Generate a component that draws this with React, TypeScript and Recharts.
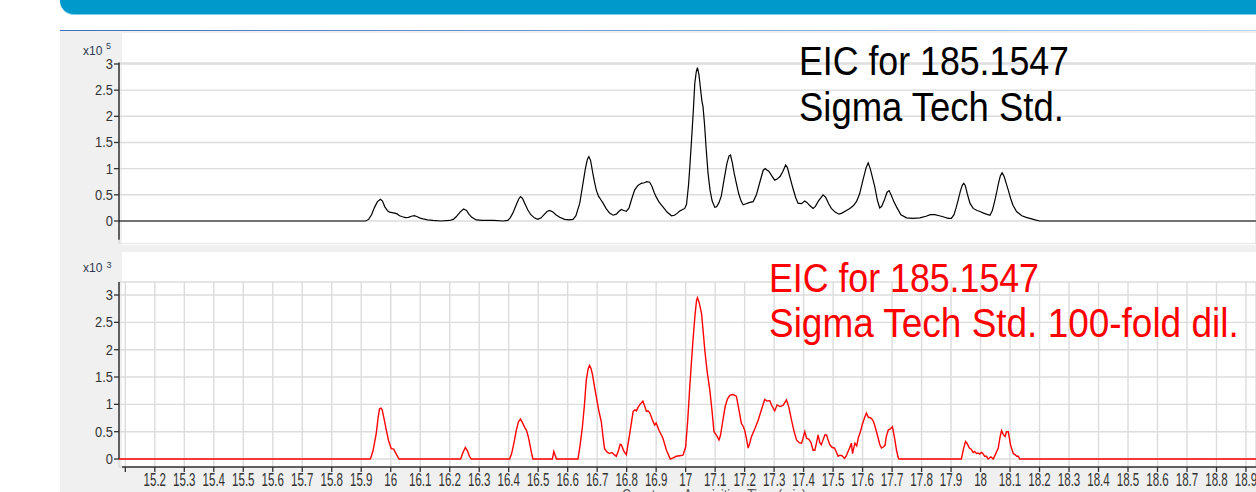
import React from 'react';
import { LineChart, Line, XAxis, YAxis, CartesianGrid, ReferenceLine } from 'recharts';

// Acquisition time window (min)
const X_MIN = 15.0786;
const X_MAX = 18.934;

const timeTicks = [
  15.1, 15.2, 15.3, 15.4, 15.5, 15.6, 15.7, 15.8, 15.9, 16,
  16.1, 16.2, 16.3, 16.4, 16.5, 16.6, 16.7, 16.8, 16.9, 17,
  17.1, 17.2, 17.3, 17.4, 17.5, 17.6, 17.7, 17.8, 17.9, 18,
  18.1, 18.2, 18.3, 18.4, 18.5, 18.6, 18.7, 18.8, 18.9,
];
const countTicks = [0, 0.5, 1, 1.5, 2, 2.5, 3];

// EIC 185.1547, Sigma Tech Std. (counts x10^5)
const stdTimes = [
  15.0786, 15.915, 15.925, 15.935, 15.945, 15.955, 15.965, 15.972, 15.98, 15.99,
  15.996, 16.005, 16.013, 16.02, 16.03, 16.04, 16.05, 16.06, 16.07, 16.08,
  16.09, 16.1, 16.11, 16.125, 16.143, 16.17, 16.2, 16.212, 16.222, 16.235,
  16.247, 16.257, 16.265, 16.275, 16.29, 16.31, 16.35, 16.38, 16.397, 16.405,
  16.414, 16.425, 16.434, 16.44, 16.447, 16.455, 16.465, 16.475, 16.487, 16.499,
  16.51, 16.52, 16.53, 16.539, 16.55, 16.56, 16.573, 16.59, 16.605, 16.618,
  16.628, 16.641, 16.65, 16.66, 16.667, 16.672, 16.678, 16.685, 16.692, 16.697,
  16.705, 16.712, 16.72, 16.73, 16.742, 16.754, 16.765, 16.775, 16.782, 16.79,
  16.799, 16.808, 16.817, 16.827, 16.838, 16.85, 16.86, 16.868, 16.878, 16.886,
  16.893, 16.9, 16.91, 16.923, 16.937, 16.952, 16.962, 16.972, 16.98, 16.99,
  16.997, 17.003, 17.01, 17.015, 17.02, 17.026, 17.031, 17.036, 17.04, 17.045,
  17.05, 17.055, 17.059, 17.064, 17.07, 17.076, 17.083, 17.09, 17.099, 17.105,
  17.113, 17.121, 17.13, 17.14, 17.147, 17.152, 17.158, 17.165, 17.172, 17.18,
  17.188, 17.195, 17.205, 17.215, 17.229, 17.24, 17.252, 17.263, 17.27, 17.274,
  17.282, 17.29, 17.302, 17.31, 17.32, 17.33, 17.339, 17.345, 17.353, 17.364,
  17.373, 17.381, 17.393, 17.404, 17.412, 17.42, 17.432, 17.44, 17.45, 17.466,
  17.475, 17.485, 17.494, 17.507, 17.52, 17.53, 17.545, 17.557, 17.57, 17.58,
  17.59, 17.602, 17.612, 17.619, 17.626, 17.634, 17.641, 17.65, 17.658, 17.665,
  17.675, 17.683, 17.69, 17.698, 17.706, 17.715, 17.73, 17.749, 17.77, 17.794,
  17.815, 17.83, 17.845, 17.86, 17.873, 17.89, 17.901, 17.91, 17.917, 17.924,
  17.932, 17.938, 17.943, 17.948, 17.955, 17.964, 17.975, 17.988, 17.998, 18.01,
  18.02, 18.032, 18.04, 18.048, 18.054, 18.06, 18.067, 18.073, 18.08, 18.087,
  18.094, 18.102, 18.11, 18.122, 18.14, 18.155, 18.167, 18.185, 18.2, 18.934,
];
const stdCounts = [
  0, 0, 0.03, 0.12, 0.26, 0.37, 0.415, 0.38, 0.27, 0.19,
  0.17, 0.16, 0.15, 0.14, 0.1, 0.08, 0.065, 0.07, 0.09, 0.1,
  0.08, 0.055, 0.04, 0.02, 0.01, 0, 0.01, 0.03, 0.08, 0.17,
  0.23, 0.2, 0.13, 0.07, 0.02, 0.01, 0.01, 0, 0.01, 0.06,
  0.15, 0.3, 0.42, 0.465, 0.43, 0.33, 0.21, 0.12, 0.06, 0.03,
  0.06, 0.12, 0.18, 0.2, 0.17, 0.12, 0.07, 0.03, 0.02, 0.03,
  0.1, 0.34, 0.65, 1.0, 1.18, 1.23, 1.15, 0.92, 0.72, 0.59,
  0.47, 0.41, 0.34, 0.24, 0.15, 0.11, 0.13, 0.19, 0.22, 0.2,
  0.185, 0.25, 0.42, 0.59, 0.68, 0.72, 0.73, 0.75, 0.74, 0.66,
  0.55, 0.46, 0.36, 0.27, 0.17, 0.1, 0.11, 0.15, 0.19, 0.22,
  0.24, 0.32, 0.7, 1.1, 1.55, 2.1, 2.63, 2.85, 2.93, 2.8,
  2.55, 2.3, 2.18, 1.85, 1.35, 0.91, 0.58, 0.38, 0.26, 0.27,
  0.35, 0.48, 0.78, 1.1, 1.24, 1.26, 1.12, 0.9, 0.72, 0.52,
  0.38, 0.31, 0.33, 0.35, 0.37, 0.5, 0.75, 0.97, 1.0, 0.98,
  0.95, 0.88, 0.78, 0.8, 0.85, 0.95, 1.07, 1.02, 0.85, 0.62,
  0.45, 0.34, 0.33, 0.38, 0.35, 0.3, 0.24, 0.28, 0.38, 0.5,
  0.45, 0.33, 0.24, 0.17, 0.13, 0.15, 0.2, 0.24, 0.3, 0.38,
  0.52, 0.8, 1.02, 1.11, 1.0, 0.82, 0.66, 0.4, 0.25, 0.28,
  0.42, 0.55, 0.58, 0.48, 0.37, 0.27, 0.12, 0.06, 0.05, 0.06,
  0.09, 0.12, 0.12, 0.1, 0.08, 0.05, 0.05, 0.12, 0.25, 0.4,
  0.58, 0.68, 0.72, 0.68, 0.52, 0.34, 0.24, 0.2, 0.18, 0.15,
  0.13, 0.11, 0.2, 0.38, 0.53, 0.7, 0.86, 0.92, 0.85, 0.72,
  0.59, 0.43, 0.3, 0.18, 0.1, 0.07, 0.05, 0.02, 0, 0,
];

// EIC 185.1547, Sigma Tech Std. 100-fold dil. (counts x10^3)
const dilTimes = [
  15.0786, 15.931, 15.94, 15.951, 15.957, 15.962, 15.967, 15.971, 15.978, 15.985,
  15.993, 16.002, 16.01, 16.018, 16.028, 16.237, 16.245, 16.253, 16.26, 16.267,
  16.273, 16.403, 16.41, 16.418, 16.426, 16.433, 16.44, 16.447, 16.455, 16.46,
  16.466, 16.471, 16.477, 16.482, 16.548, 16.553, 16.558, 16.562, 16.635, 16.642,
  16.65, 16.657, 16.663, 16.669, 16.674, 16.679, 16.684, 16.69, 16.697, 16.705,
  16.714, 16.72, 16.725, 16.733, 16.742, 16.75, 16.758, 16.765, 16.772, 16.778,
  16.782, 16.79, 16.799, 16.81, 16.822, 16.828, 16.833, 16.839, 16.844, 16.855,
  16.861, 16.867, 16.872, 16.878, 16.887, 16.895, 16.9, 16.91, 16.923, 16.935,
  16.948, 16.958, 16.968, 16.98, 16.991, 17.0, 17.007, 17.014, 17.02, 17.025,
  17.032, 17.037, 17.04, 17.046, 17.054, 17.06, 17.065, 17.073, 17.082, 17.09,
  17.096, 17.104, 17.113, 17.118, 17.126, 17.134, 17.142, 17.151, 17.16, 17.172,
  17.18, 17.189, 17.195, 17.2, 17.206, 17.212, 17.218, 17.223, 17.235, 17.246,
  17.257, 17.268, 17.276, 17.285, 17.293, 17.302, 17.31, 17.32, 17.33, 17.342,
  17.35, 17.359, 17.367, 17.376, 17.385, 17.393, 17.398, 17.404, 17.41, 17.418,
  17.425, 17.432, 17.438, 17.444, 17.449, 17.455, 17.46, 17.466, 17.472, 17.478,
  17.483, 17.489, 17.497, 17.505, 17.511, 17.517, 17.523, 17.53, 17.539, 17.545,
  17.55, 17.556, 17.562, 17.566, 17.57, 17.574, 17.58, 17.586, 17.591, 17.6,
  17.607, 17.613, 17.62, 17.625, 17.63, 17.636, 17.642, 17.648, 17.653, 17.658,
  17.664, 17.67, 17.676, 17.68, 17.687, 17.694, 17.701, 17.708, 17.715, 17.72,
  17.723, 17.935, 17.942, 17.949, 17.955, 17.962, 17.968, 17.975, 17.98, 17.986,
  17.992, 17.997, 18.003, 18.008, 18.014, 18.02, 18.026, 18.035, 18.043, 18.05,
  18.06, 18.066, 18.071, 18.077, 18.083, 18.088, 18.094, 18.102, 18.111, 18.117,
  18.123, 18.128, 18.133, 18.934,
];
const dilCounts = [
  0, 0, 0.15, 0.47, 0.75, 0.92, 0.93, 0.9, 0.72, 0.53,
  0.33, 0.19, 0.18, 0.1, 0, 0, 0.12, 0.21, 0.15, 0.05,
  0, 0, 0.1, 0.3, 0.53, 0.68, 0.73, 0.66, 0.57, 0.53,
  0.42, 0.29, 0.12, 0, 0, 0.14, 0.06, 0, 0, 0.25,
  0.59, 1.0, 1.44, 1.64, 1.71, 1.66, 1.55, 1.35, 1.14, 0.9,
  0.68, 0.4, 0.19, 0.13, 0.1, 0.12, 0.08, 0.05, 0.15, 0.27,
  0.26, 0.15, 0.08, 0.45, 0.87, 0.9, 0.88, 0.95, 0.99, 1.06,
  0.97, 0.87, 0.88, 0.85, 0.72, 0.62, 0.66, 0.52, 0.38, 0.16,
  0, 0.02, 0.05, 0.06, 0.07, 0.22, 0.7, 1.32, 1.8, 2.18,
  2.65, 2.9, 2.95, 2.86, 2.66, 2.3, 1.99, 1.6, 1.26, 0.85,
  0.5, 0.44, 0.35, 0.43, 0.7, 0.96, 1.1, 1.17, 1.18, 1.15,
  0.92, 0.65, 0.6, 0.53, 0.38, 0.2, 0.3, 0.41, 0.56, 0.71,
  0.9, 1.09, 1.06, 1.07, 0.97, 0.88, 0.99, 0.96, 0.98, 1.08,
  0.95, 0.71, 0.52, 0.35, 0.3, 0.29, 0.38, 0.5, 0.38, 0.36,
  0.3, 0.16, 0.16, 0.3, 0.44, 0.3, 0.26, 0.35, 0.44, 0.44,
  0.35, 0.26, 0.21, 0.2, 0.13, 0.05, 0.07, 0.06, 0.01, 0.06,
  0.13, 0.2, 0.29, 0.1, 0.2, 0.29, 0.24, 0.4, 0.47, 0.65,
  0.76, 0.84, 0.76, 0.76, 0.74, 0.7, 0.6, 0.48, 0.38, 0.27,
  0.2, 0.22, 0.25, 0.4, 0.53, 0.55, 0.59, 0.4, 0.16, 0.04,
  0, 0, 0.18, 0.32, 0.28, 0.2, 0.18, 0.12, 0.14, 0.1,
  0.11, 0.09, 0.12, 0.1, 0.05, 0.05, 0, 0.04, 0, 0.08,
  0.2, 0.4, 0.52, 0.45, 0.41, 0.5, 0.5, 0.25, 0.1, 0.08,
  0.05, 0.05, 0, 0,
];

const stdData = stdTimes.map((t, i) => ({ t, v: stdCounts[i] }));
const dilData = dilTimes.map((t, i) => ({ t, v: dilCounts[i] }));

const TOP_Y_DOMAIN: [number, number] = [-0.44, 3.019];
const BOT_Y_DOMAIN: [number, number] = [-0.146, 3.238];

const FONT = '"Liberation Sans", Arial, sans-serif';
const AXIS_COLOR = '#333333';
const GRID_COLOR = '#dcdcdc';

const YTick = (props: any) => {
  const { x, y, payload } = props;
  return (
    <g transform={`translate(${x},${y})`}>
      <text x={0} y={0} dy={5} textAnchor="end" fontSize={14} fill="#333" fontFamily={FONT} transform="scale(0.92,1)">
        {String(payload.value)}
      </text>
    </g>
  );
};

const XTick = (props: any) => {
  const { x, y, payload } = props;
  const v = payload.value;
  const label = Math.abs(v - 15.1) < 1e-6 ? '' : String(v);
  return (
    <g transform={`translate(${x},${y})`}>
      <text x={0} y={0} dy={12} textAnchor="middle" fontSize={17.5} fill="#333" fontFamily={FONT} transform="scale(0.66,1)">
        {label}
      </text>
    </g>
  );
};

const Title = ({ x, y, sx, color, children }: any) => (
  <g transform={`translate(${x},${y}) scale(${sx},1)`}>
    <text x={0} y={0} fontSize={40} fill={color} fontFamily={FONT}>{children}</text>
  </g>
);

export default function App() {
  return (
    <div style={{ position: 'fixed', left: 0, top: 0, width: 1256, height: 492, overflow: 'hidden', background: '#fff', fontFamily: FONT }}>
      {/* header */}
      <div style={{ position: 'absolute', left: 60, top: 0, width: 1196, height: 14, background: '#0099cc', borderBottomLeftRadius: 14, borderBottom: '1px solid #7fcbe6' }} />
      <div style={{ position: 'absolute', left: 60, top: 30, width: 1196, height: 1, background: 'linear-gradient(to right, #3d6fbf, #b9d3f5)' }} />
      <div style={{ position: 'absolute', left: 60, top: 31, width: 1196, height: 461, background: '#f0f0f0' }} />
      <div style={{ position: 'absolute', left: 122, top: 33, width: 1134, height: 212, background: '#ffffff' }} />
      <div style={{ position: 'absolute', left: 122, top: 252, width: 1134, height: 215, background: '#ffffff' }} />

      {/* top chart */}
      <div style={{ position: 'absolute', left: 0, top: 33 }}>
        <LineChart width={1256} height={211} data={stdData} margin={{ top: 30, right: 0, bottom: 0, left: 0 }}>
          <CartesianGrid stroke={GRID_COLOR} strokeWidth={1.4} />
          <XAxis dataKey="t" type="number" domain={[X_MIN, X_MAX]} allowDataOverflow ticks={timeTicks} interval={0}
            height={0} tick={false} axisLine={false} tickLine={false} />
          <YAxis type="number" domain={TOP_Y_DOMAIN} allowDataOverflow ticks={countTicks} interval={0} width={119}
            axisLine={false} tickSize={5} tickMargin={1} tickLine={{ stroke: AXIS_COLOR, strokeWidth: 1.3 }} tick={YTick} />
          <ReferenceLine segment={[{ x: X_MIN, y: -0.36 }, { x: X_MIN, y: 3.03 }]} stroke={AXIS_COLOR} strokeWidth={1.5} ifOverflow="visible" />
          <Line dataKey="v" type="linear" stroke="#000000" strokeWidth={1.2} dot={false} isAnimationActive={false} />
        </LineChart>
      </div>

      {/* bottom chart */}
      <div style={{ position: 'absolute', left: 0, top: 252 }}>
        <LineChart width={1256} height={240} data={dilData} margin={{ top: 30, right: 0, bottom: 0, left: 0 }}>
          <CartesianGrid stroke={GRID_COLOR} strokeWidth={1.4} />
          <XAxis dataKey="t" type="number" domain={[X_MIN, X_MAX]} allowDataOverflow ticks={timeTicks} interval={0}
            height={25} axisLine={false} tickSize={5} tickMargin={2} tickLine={{ stroke: AXIS_COLOR, strokeWidth: 1.3 }} tick={XTick} />
          <YAxis type="number" domain={BOT_Y_DOMAIN} allowDataOverflow ticks={countTicks} interval={0} width={119}
            axisLine={false} tickSize={5} tickMargin={1} tickLine={{ stroke: AXIS_COLOR, strokeWidth: 1.3 }} tick={YTick} />
          <ReferenceLine segment={[{ x: X_MIN, y: 0 }, { x: X_MIN, y: 3.238 }]} stroke={AXIS_COLOR} strokeWidth={1.5} ifOverflow="visible" />
          <ReferenceLine segment={[{ x: 15.089, y: BOT_Y_DOMAIN[0] }, { x: X_MAX, y: BOT_Y_DOMAIN[0] }]} stroke={AXIS_COLOR} strokeWidth={1.5} ifOverflow="visible" />
          <Line dataKey="v" type="linear" stroke="#ff0000" strokeWidth={1.4} dot={false} isAnimationActive={false} />
        </LineChart>
      </div>

      {/* overlay texts */}
      <svg width={1256} height={492} style={{ position: 'absolute', left: 0, top: 0, pointerEvents: 'none' }}>
        <g fontFamily={FONT}>
          <text x={83} y={55} fontSize={12} fill="#2e3a52">x10</text>
          <text x={106} y={49} fontSize={9} fill="#2e3a52">5</text>
          <text x={83} y={272} fontSize={12} fill="#2e3a52">x10</text>
          <text x={106.5} y={268} fontSize={9} fill="#2e3a52">3</text>

          <Title x={799} y={75} sx={0.893} color="#000">EIC for 185.1547</Title>
          <Title x={799} y={121} sx={0.912} color="#000">Sigma Tech Std.</Title>
          <Title x={769} y={292} sx={0.893} color="#ff0000">EIC for 185.1547</Title>
          <Title x={769} y={337} sx={0.924} color="#ff0000">Sigma Tech Std. 100-fold dil.</Title>

          <g transform="translate(622,501) scale(0.78,1)">
            <text x={0} y={0} fontSize={16} fill="#555">Counts vs. Acquisition Time (min)</text>
          </g>
        </g>
      </svg>
    </div>
  );
}
